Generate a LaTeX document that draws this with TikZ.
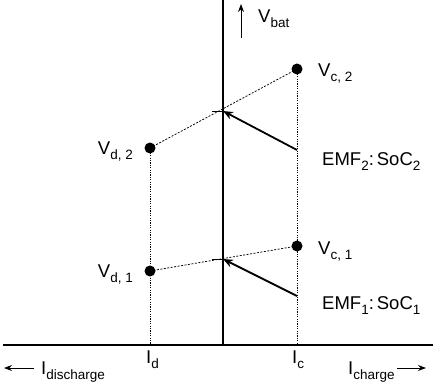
\documentclass[tikz,border=0pt]{standalone}
\usepackage{fontspec}
\setmainfont{Liberation Sans}
\usetikzlibrary{arrows.meta}
\newcommand\lsub[1]{\raisebox{-5pt}{\fontsize{13.5}{15}\selectfont #1}}
\begin{document}
\begin{tikzpicture}[x=1pt,y=-1pt,
  axisline/.style={line width=1.4pt},
  dashline/.style={line width=0.75pt,dash pattern=on 2pt off 1.5pt},
  dotline/.style={line width=0.75pt,dash pattern=on 1.2pt off 1.2pt},
  emfarrow/.style={line width=1.8pt,-{Stealth[length=10pt,width=8pt]}},
  smallarrow/.style={line width=1pt,-{Stealth[length=8pt,width=6pt]}},
  dot/.style={circle,fill=black,inner sep=0pt,minimum size=11pt},
  lbl/.style={inner sep=0pt,font=\fontsize{18.5}{21}\selectfont},
]
\useasboundingbox (0,0) rectangle (433,385);
% axes
\coordinate (vtop) at (223,0);
\coordinate (origin) at (223,345);
\coordinate (hleft) at (3,345);
\coordinate (hright) at (433,345);
\draw[axisline] (vtop) -- (origin);
\draw[axisline] (hleft) -- (hright);
% points
\coordinate (pc2) at (297,69);
\coordinate (pd2) at (150,148);
\coordinate (pc1) at (297,246);
\coordinate (pd1) at (150,271);
\coordinate (t2) at (223,111);
\coordinate (t1) at (223,259);
\coordinate (e2) at (297,150);
\coordinate (e1) at (297,296);
% dotted verticals
\draw[dotline] (pd2) -- (pd2 |- origin);
\draw[dotline] (pc2) -- (pc2 |- origin);
% dashed connections
\draw[dashline] (pd2) -- (pc2);
\draw[dashline] (pd1) -- (pc1);
% ticks
\draw[line width=1pt] (t2) -- ++(-11,0);
\draw[line width=1pt] (t1) -- ++(-11,0);
% dots
\node[dot] (vc2) at (pc2) {};
\node[dot] (vd2) at (pd2) {};
\node[dot] (vc1) at (pc1) {};
\node[dot] (vd1) at (pd1) {};
% EMF arrows
\draw[emfarrow] (e2) -- (t2);
\draw[emfarrow] (e1) -- (t1);
% Vbat arrow
\coordinate (vb0) at (241,38);
\coordinate (vb1) at (241,4);
\draw[smallarrow] (vb0) -- (vb1);
\node[lbl,anchor=base west] (lvbat) at (258,23) {V\lsub{bat}};
% labels
\node[lbl,anchor=base west] (lvc2) at (318,77) {V\lsub{c, 2}};
\node[lbl,anchor=base east] (lvd2) at (133,154) {V\lsub{d, 2}};
\node[lbl,anchor=base west] (lvc1) at (318,254) {V\lsub{c, 1}};
\node[lbl,anchor=base east] (lvd1) at (133,277) {V\lsub{d, 1}};
\node[lbl,anchor=base west] (lemf2) at (322,165) {EMF\lsub{2}:\hspace{3pt}SoC\lsub{2}};
\node[lbl,anchor=base west] (lemf1) at (322,309) {EMF\lsub{1}:\hspace{3pt}SoC\lsub{1}};
\node[lbl,anchor=base west] (lid) at (146,363) {I\lsub{d}};
\node[lbl,anchor=base west] (lic) at (292,363) {I\lsub{c}};
\node[lbl,anchor=base west] (lidis) at (41,374) {I\lsub{discharge}};
\node[lbl,anchor=base west] (lich) at (348,374) {I\lsub{charge}};
\coordinate (ad0) at (34,368);
\coordinate (ad1) at (4,368);
\draw[smallarrow] (ad0) -- (ad1);
\coordinate (ac0) at (397,368);
\coordinate (ac1) at (426,368);
\draw[smallarrow] (ac0) -- (ac1);
\end{tikzpicture}
\end{document}
